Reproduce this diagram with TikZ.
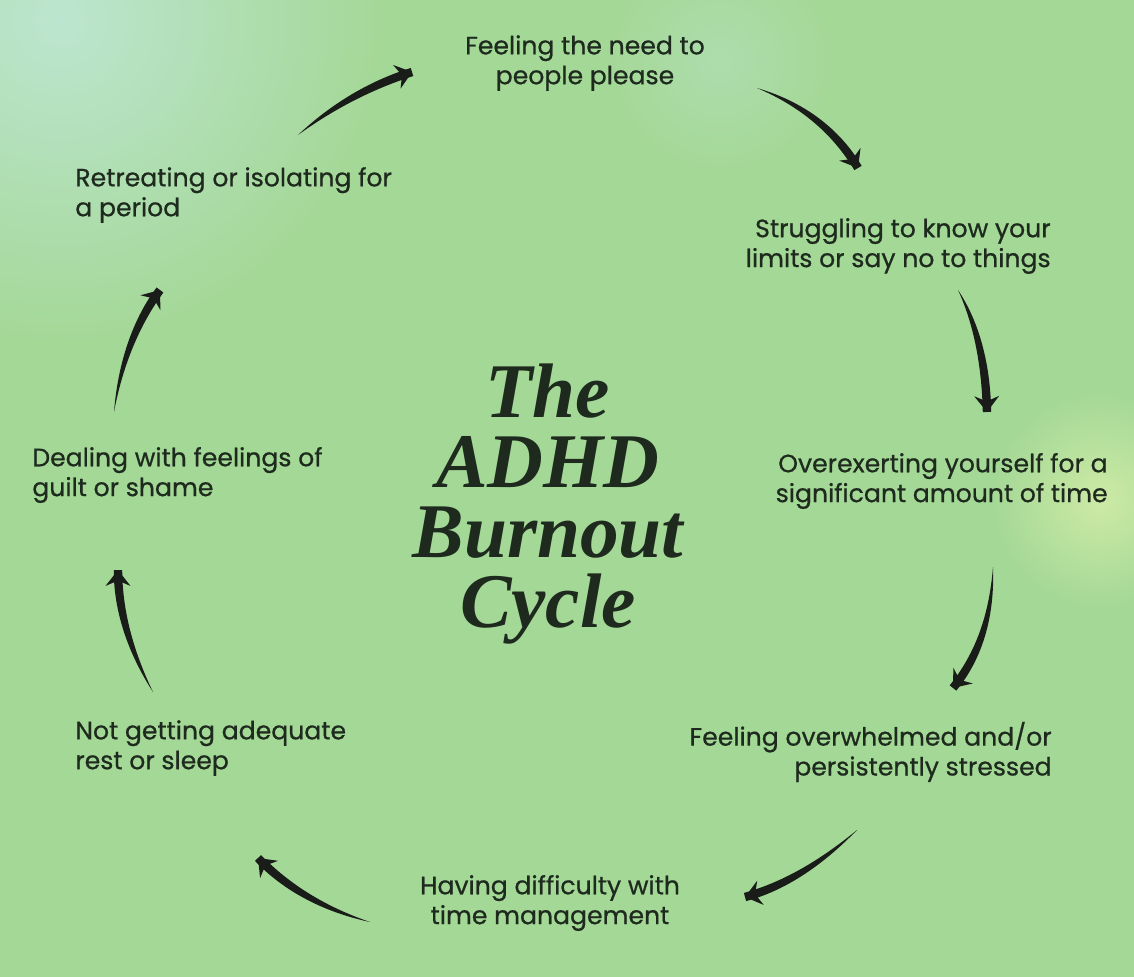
\documentclass[tikz,border=0pt]{standalone}
\usepackage{fontspec}
\setmainfont{Poppins}[UprightFeatures={FakeBold=0.7}]
\newfontfamily\titlefont{Liberation Serif}
\usetikzlibrary{arrows.meta,fadings,calc}

\definecolor{bggreen}{HTML}{A4D896}
\definecolor{bgmint}{HTML}{BDE6D0}
\definecolor{bgglow}{HTML}{CDEBA6}
\definecolor{inkdark}{HTML}{1E2A1E}
\definecolor{brush}{HTML}{1A1C1A}

\tikzfading[name=soft glow, inner color=transparent!0, outer color=transparent!100]

\tikzset{
	step text/.style={inner sep=0pt, text=inkdark, font=\fontsize{14.3}{17}\selectfont},
	brush tip/.style={draw=brush, line width=4pt, -{Stealth[length=9pt, width=14pt, inset=3pt]}},
}

\newcommand{\brushstroke}[4]{
	\fill[brush] (#1) .. controls ($(#2)!1.7pt!90:(#3)$) and ($(#3)!2.5pt!90:(#4)$) .. ($(#4)!2.4pt!-90:(#3)$)
		-- ($(#4)!2.4pt!90:(#3)$) .. controls ($(#3)!2.5pt!-90:(#4)$) and ($(#2)!1.7pt!-90:(#3)$) .. (#1) -- cycle;
	\draw[brush tip] ($(#4)!7pt!(#3)$) -- (#4);
}

\begin{document}
\begin{tikzpicture}[x=0.02cm, y=-0.02cm]
			\useasboundingbox (0, 0) rectangle (1134, 977);
			\begin{scope}
				\clip (0, 0) rectangle (1134, 977);
				\fill[bggreen] (0, 0) rectangle (1134, 977);
				\fill[bgmint, path fading=soft glow] (60, 20) circle (330);
				\fill[bgmint, path fading=soft glow, opacity=0.4] (720, 60) circle (120);
				\fill[bgglow, path fading=soft glow] (1100, 500) circle (110);
			\end{scope}
			\node[step text, align=center](s1) at (585, 63){Feeling the need to\\people please};
			\node[step text, align=right, anchor=east](s2) at (1051, 246){Struggling to know your\\limits or say no to things};
			\node[step text, align=right, anchor=east](s3) at (1108, 481){Overexerting yourself for a\\significant amount of time};
			\node[step text, align=right, anchor=east](s4) at (1052, 752){Feeling overwhelmed and/or\\persistently stressed};
			\node[step text, align=center](s5) at (550, 903){Having difficulty with\\time management};
			\node[step text, align=left, anchor=west](s6) at (75, 748){Not getting adequate\\rest or sleep};
			\node[step text, align=left, anchor=west](s7) at (32, 475){Dealing with feelings of\\guilt or shame};
			\node[step text, align=left, anchor=west](s8) at (75, 195){Retreating or isolating for\\a period};
			\node[inner sep=0pt, align=center, text=inkdark, font=\titlefont\fontsize{44}{40}\selectfont\bfseries\itshape](title) at (548, 504){The\\ADHD\\Burnout\\Cycle};
			\coordinate (t1) at (298, 135);
			\coordinate (p1) at (333, 106);
			\coordinate (q1) at (371, 85);
			\coordinate (h1) at (412, 72);
			\coordinate (t2) at (757, 88);
			\coordinate (p2) at (802, 104);
			\coordinate (q2) at (836, 131);
			\coordinate (h2) at (858, 168);
			\coordinate (t3) at (958, 290);
			\coordinate (p3) at (976, 322);
			\coordinate (q3) at (986, 363);
			\coordinate (h3) at (987, 412);
			\coordinate (t4) at (993, 567);
			\coordinate (p4) at (992, 616);
			\coordinate (q4) at (979, 656);
			\coordinate (h4) at (953, 688);
			\coordinate (t5) at (857, 830);
			\coordinate (p5) at (819, 865);
			\coordinate (q5) at (782, 887);
			\coordinate (h5) at (745, 897);
			\coordinate (t6) at (370, 922);
			\coordinate (p6) at (323, 909);
			\coordinate (q6) at (286, 887);
			\coordinate (h6) at (258, 858);
			\coordinate (t7) at (153, 692);
			\coordinate (p7) at (130, 651);
			\coordinate (q7) at (118, 610);
			\coordinate (h7) at (118, 570);
			\coordinate (t8) at (114, 412);
			\coordinate (p8) at (121, 359);
			\coordinate (q8) at (139, 318);
			\coordinate (h8) at (160, 290);
			\brushstroke{t1}{p1}{q1}{h1}
			\brushstroke{t2}{p2}{q2}{h2}
			\brushstroke{t3}{p3}{q3}{h3}
			\brushstroke{t4}{p4}{q4}{h4}
			\brushstroke{t5}{p5}{q5}{h5}
			\brushstroke{t6}{p6}{q6}{h6}
			\brushstroke{t7}{p7}{q7}{h7}
			\brushstroke{t8}{p8}{q8}{h8}
		\end{tikzpicture}
\end{document}
